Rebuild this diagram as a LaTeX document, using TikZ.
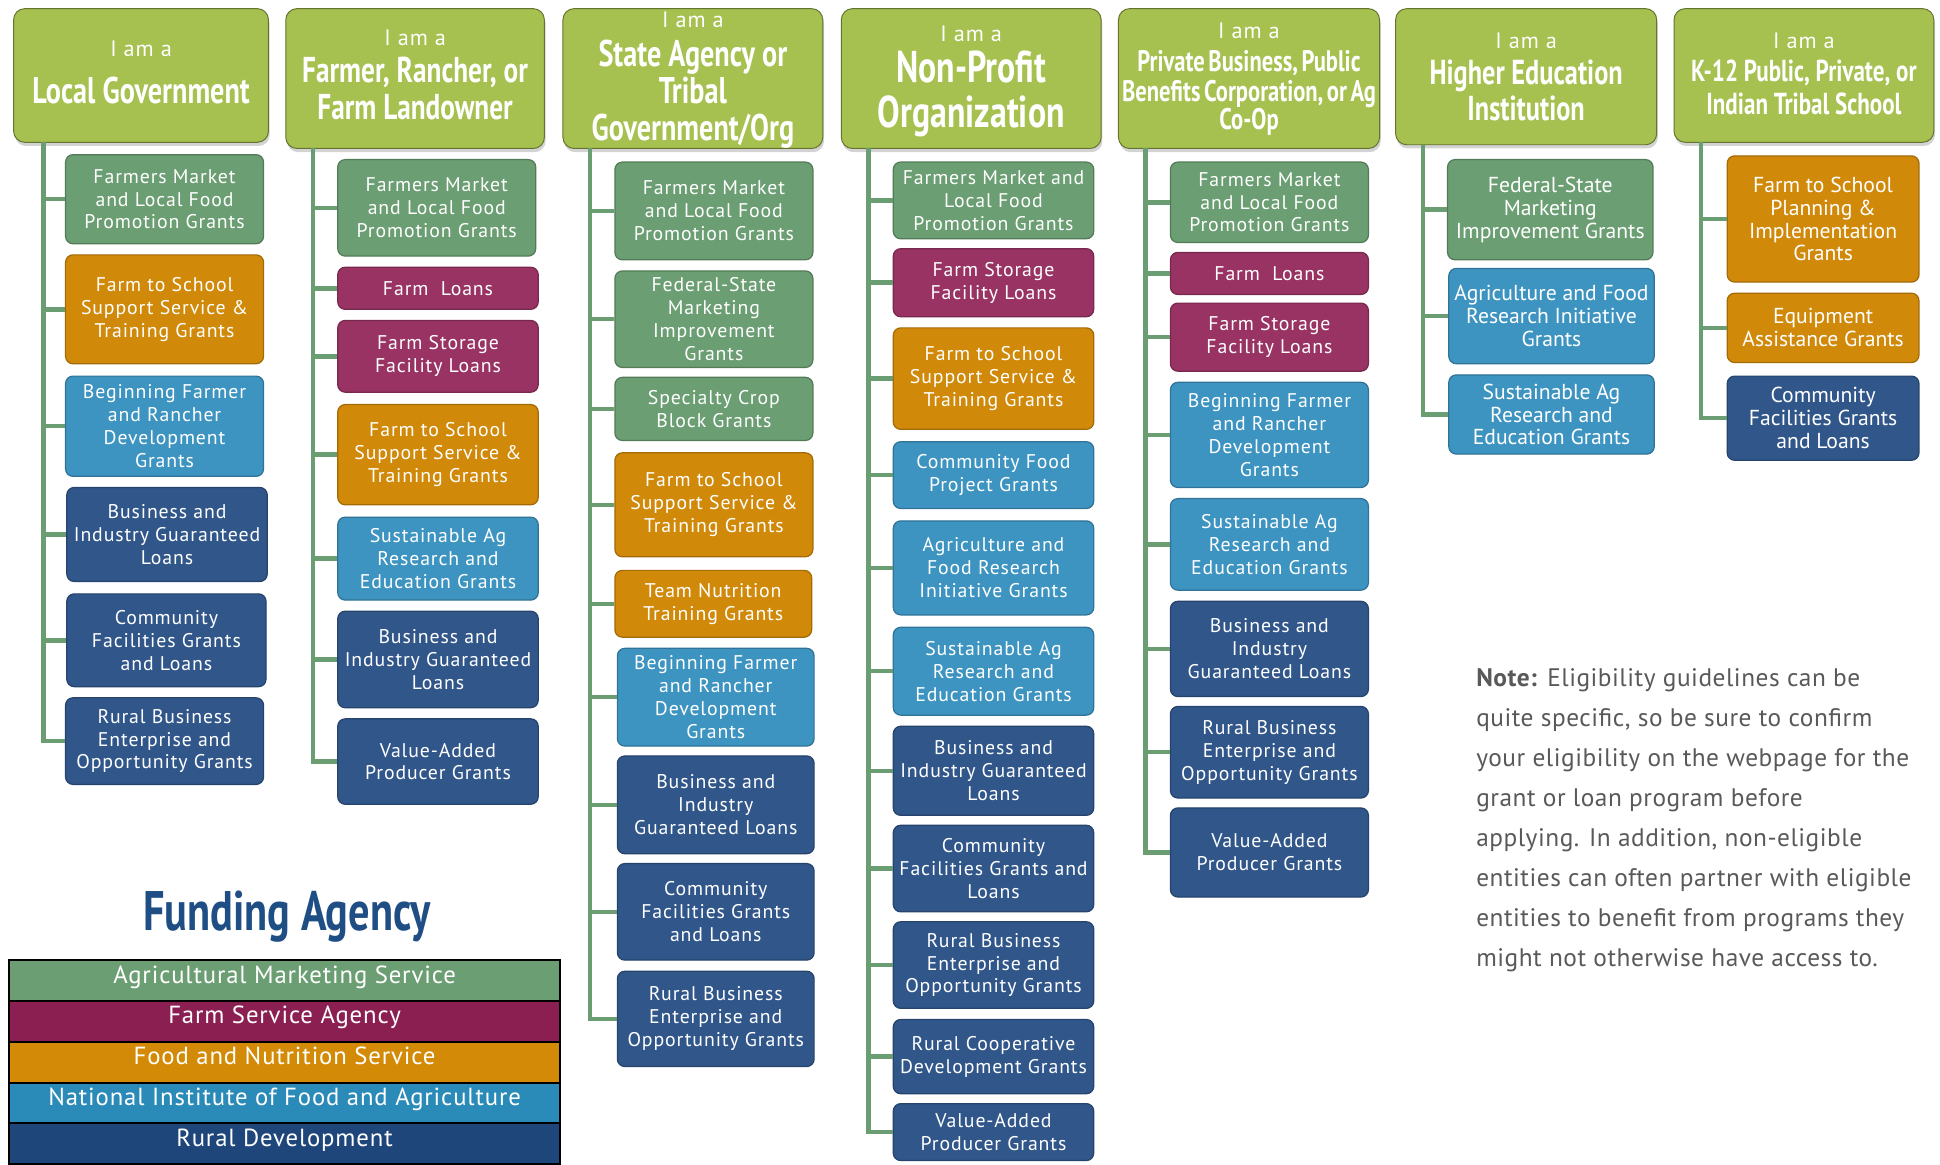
\documentclass[tikz,border=0pt]{standalone}
\usepackage{fontspec}
\setmainfont{PT Sans}
\newfontfamily\bxfont[LetterSpace=4.5]{PT Sans}
\newfontfamily\bxnfont{PT Sans}
\newfontfamily\legfont[LetterSpace=3.5]{PT Sans}
\newfontfamily\notefont[LetterSpace=2]{PT Sans}
\newfontfamily\hdfont[FakeStretch=0.76]{PT Sans}
\usetikzlibrary{shadows}
\definecolor{hgreen}{HTML}{A6C150}
\definecolor{ams}{HTML}{6B9E72}
\definecolor{fsa}{HTML}{983363}
\definecolor{fns}{HTML}{D1890A}
\definecolor{nifa}{HTML}{3D94C1}
\definecolor{rd}{HTML}{31568A}
\definecolor{lams}{HTML}{6B9F73}
\definecolor{lfsa}{HTML}{8C1F52}
\definecolor{lfns}{HTML}{D38A06}
\definecolor{lnifa}{HTML}{2A8AB8}
\definecolor{lrd}{HTML}{1F467A}
\definecolor{conn}{HTML}{6A9E72}
\definecolor{notegray}{HTML}{595959}
\definecolor{fundnavy}{HTML}{1F4E85}
\tikzset{
  hdrbox/.style={rounded corners=9pt, fill=hgreen, draw=hgreen!60!black, line width=0.8pt,
    inner sep=0pt, drop shadow={shadow xshift=1pt, shadow yshift=-3pt, opacity=0.35}},
  htxt/.style={anchor=base, inner sep=0pt, text=white},
  gbox/.style={rounded corners=6pt, text=white, align=center, inner sep=0pt, line width=1pt,
    font=\bxfont\fontsize{16}{18.5}\selectfont},
  nbox/.style={gbox, font=\bxnfont\fontsize{17.5}{18.5}\selectfont},
  connline/.style={draw=conn, line width=3.6pt},
  legrow/.style={draw=black, line width=1.6pt, text=white, inner sep=0pt,
    text height=14pt, text depth=10pt,
    minimum width=446pt, minimum height=33pt, font=\legfont\fontsize{20}{22}\selectfont},
}
\newcommand\hf[1]{\hdfont\bfseries\fontsize{#1}{#1}\selectfont}
% header box: name, x1, x2, y1, y2
\newcommand\hdr[5]{\node[hdrbox, minimum width={(#3)-(#2)}, minimum height={(#5)-(#4)}] (#1) at ({((#2)+(#3))/2},{((#4)+(#5))/2}) {};}
% "I am a": name, x, ycenter
\newcommand\iam[3]{\node[htxt, font=\bxfont\fontsize{18}{20}\selectfont] (#1) at (#2,{(#3)+6.5}) {I am a};}
% header line: name, x, ycenter, size, text
\newcommand\hl[5]{\node[htxt, font=\hf{#4}] (#1) at (#2,{(#3)+0.36*(#4)}) {#5};}
\newcommand\tight{\spaceskip=0.12em plus 0.05em\relax}
\newcommand\gb[8][gbox]{\node[#1, fill=#3, draw=#3!78!black, minimum width={(#5)-(#4)}, minimum height={(#7)-(#6)}] (#2) at ({((#4)+(#5))/2},{((#6)+(#7))/2}) {#8};}
\begin{document}
\begin{tikzpicture}[x=1pt,y=-1pt]
\useasboundingbox (0,0) rectangle (1568,941);

% ---------- headers ----------
\hdr{h1}{11}{217}{7}{115}
\iam{h1i}{114}{39}
\hl{h1a}{114}{73}{30}{Local Government}

\hdr{h2}{231}{440}{7}{120}
\iam{h2i}{335.5}{30}
\hl{h2a}{335.5}{56}{29}{Farmer, Rancher, or}
\hl{h2b}{335.5}{86}{29}{Farm Landowner}

\hdr{h3}{455}{665}{7}{120}
\iam{h3i}{560}{16}
\hl{h3a}{560}{43}{30}{State Agency or}
\hl{h3b}{560}{73}{30}{Tribal}
\hl{h3c}{560}{103}{30}{Government/Org}

\hdr{h4}{680}{890}{7}{120}
\iam{h4i}{785}{27}
\hl{h4a}{785}{54}{36}{Non-Profit}
\hl{h4b}{785}{90}{36}{Organization}

\hdr{h5}{904}{1115}{7}{120}
\iam{h5i}{1009.5}{25}
\hl{h5a}{1009.5}{49}{24}{\tight Private Business, Public}
\hl{h5b}{1009.5}{73}{24}{\tight Benefits Corporation, or Ag}
\hl{h5c}{1009.5}{96}{24}{Co-Op}

\hdr{h6}{1128}{1339}{7}{117}
\iam{h6i}{1233.5}{33}
\hl{h6a}{1233.5}{58}{28}{Higher Education}
\hl{h6b}{1233.5}{87}{28}{Institution}

\hdr{h7}{1353}{1563}{7}{115}
\iam{h7i}{1458}{33}
\hl{h7a}{1458}{57}{24.5}{K-12 Public, Private, or}
\hl{h7b}{1458}{84}{24.5}{Indian Tribal School}

% trunk starts
\coordinate (t1) at (35,115);
\coordinate (t2) at (253,120);
\coordinate (t3) at (477,120);
\coordinate (t4) at (702,120);
\coordinate (t5) at (926,120);
\coordinate (t6) at (1150,117);
\coordinate (t7) at (1375,115);

% ---------- column 1 ----------
\gb{c1a}{ams}{53}{213}{125}{197}{Farmers Market\\and Local Food\\Promotion Grants}
\gb{c1b}{fns}{53}{213}{206}{294}{Farm to School\\Support Service \&\\Training Grants}
\gb{c1c}{nifa}{53}{213}{304}{385}{Beginning Farmer\\and Rancher\\Development\\Grants}
\gb{c1d}{rd}{54}{216}{394}{470}{Business and\\Industry Guaranteed\\Loans}
\gb{c1e}{rd}{54}{215}{480}{555}{Community\\Facilities Grants\\and Loans}
\gb{c1f}{rd}{53}{213}{564}{634}{Rural Business\\Enterprise and\\Opportunity Grants}

% ---------- column 2 ----------
\gb{c2a}{ams}{273}{433}{129}{207}{Farmers Market\\and Local Food\\Promotion Grants}
\gb{c2b}{fsa}{273}{435}{216}{250}{Farm~~Loans}
\gb{c2c}{fsa}{273}{435}{259}{317}{Farm Storage\\Facility Loans}
\gb{c2d}{fns}{273}{435}{327}{408}{Farm to School\\Support Service \&\\Training Grants}
\gb{c2e}{nifa}{273}{435}{418}{485}{Sustainable Ag\\Research and\\Education Grants}
\gb{c2f}{rd}{273}{435}{494}{572}{Business and\\Industry Guaranteed\\Loans}
\gb{c2g}{rd}{273}{435}{581}{650}{Value-Added\\Producer Grants}

% ---------- column 3 ----------
\gb{c3a}{ams}{497}{657}{131}{210}{Farmers Market\\and Local Food\\Promotion Grants}
\gb{c3b}{ams}{497}{657}{219}{297}{Federal-State\\Marketing\\Improvement\\Grants}
\gb{c3c}{ams}{497}{657}{305}{356}{Specialty Crop\\Block Grants}
\gb{c3d}{fns}{497}{657}{366}{450}{Farm to School\\Support Service \&\\Training Grants}
\gb{c3e}{fns}{497}{656}{461}{515}{Team Nutrition\\Training Grants}
\gb{c3f}{nifa}{499}{658}{524}{603}{Beginning Farmer\\and Rancher\\Development\\Grants}
\gb{c3g}{rd}{499}{658}{611}{690}{Business and\\Industry\\Guaranteed Loans}
\gb{c3h}{rd}{499}{658}{698}{776}{Community\\Facilities Grants\\and Loans}
\gb{c3i}{rd}{499}{658}{785}{862}{Rural Business\\Enterprise and\\Opportunity Grants}

% ---------- column 4 ----------
\gb{c4a}{ams}{722}{884}{131}{193}{Farmers Market and\\Local Food\\Promotion Grants}
\gb{c4b}{fsa}{722}{884}{201}{256}{Farm Storage\\Facility Loans}
\gb{c4c}{fns}{722}{884}{265}{347}{Farm to School\\Support Service \&\\Training Grants}
\gb{c4d}{nifa}{722}{884}{357}{411}{Community Food\\Project Grants}
\gb{c4e}{nifa}{722}{884}{421}{497}{Agriculture and\\Food Research\\Initiative Grants}
\gb{c4f}{nifa}{722}{884}{507}{578}{Sustainable Ag\\Research and\\Education Grants}
\gb{c4g}{rd}{722}{884}{587}{659}{Business and\\Industry Guaranteed\\Loans}
\gb{c4h}{rd}{722}{884}{667}{737}{Community\\Facilities Grants and\\Loans}
\gb{c4i}{rd}{722}{884}{745}{815}{Rural Business\\Enterprise and\\Opportunity Grants}
\gb{c4j}{rd}{722}{884}{824}{884}{Rural Cooperative\\Development Grants}
\gb{c4k}{rd}{722}{884}{892}{938}{Value-Added\\Producer Grants}

% ---------- column 5 ----------
\gb{c5a}{ams}{946}{1106}{131}{196}{Farmers Market\\and Local Food\\Promotion Grants}
\gb{c5b}{fsa}{946}{1106}{204}{238}{Farm~~Loans}
\gb{c5c}{fsa}{946}{1106}{245}{300}{Farm Storage\\Facility Loans}
\gb{c5d}{nifa}{946}{1106}{309}{394}{Beginning Farmer\\and Rancher\\Development\\Grants}
\gb{c5e}{nifa}{946}{1106}{403}{477}{Sustainable Ag\\Research and\\Education Grants}
\gb{c5f}{rd}{946}{1106}{486}{563}{Business and\\Industry\\Guaranteed Loans}
\gb{c5g}{rd}{946}{1106}{571}{645}{Rural Business\\Enterprise and\\Opportunity Grants}
\gb{c5h}{rd}{946}{1106}{653}{725}{Value-Added\\Producer Grants}

% ---------- column 6 ----------
\gb[nbox]{c6a}{ams}{1170}{1336}{129}{210}{Federal-State\\Marketing\\Improvement Grants}
\gb[nbox]{c6b}{nifa}{1171}{1337}{217}{294}{Agriculture and Food\\Research Initiative\\Grants}
\gb[nbox]{c6c}{nifa}{1171}{1337}{303}{367}{Sustainable Ag\\Research and\\Education Grants}

% ---------- column 7 ----------
\gb[nbox]{c7a}{fns}{1396}{1551}{126}{228}{Farm to School\\Planning \&\\Implementation\\Grants}
\gb[nbox]{c7b}{fns}{1396}{1551}{237}{293}{Equipment\\Assistance Grants}
\gb[nbox]{c7c}{rd}{1396}{1551}{304}{372}{Community\\Facilities Grants\\and Loans}

% ---------- connectors ----------
\foreach \b in {c1a,c1b,c1c,c1d,c1e,c1f} \draw[connline] (t1) |- (\b.west);
\foreach \b in {c2a,c2b,c2c,c2d,c2e,c2f,c2g} \draw[connline] (t2) |- (\b.west);
\foreach \b in {c3a,c3b,c3c,c3d,c3e,c3f,c3g,c3h,c3i} \draw[connline] (t3) |- (\b.west);
\foreach \b in {c4a,c4b,c4c,c4d,c4e,c4f,c4g,c4h,c4i,c4j,c4k} \draw[connline] (t4) |- (\b.west);
\foreach \b in {c5a,c5b,c5c,c5d,c5e,c5f,c5g,c5h} \draw[connline] (t5) |- (\b.west);
\foreach \b in {c6a,c6b,c6c} \draw[connline] (t6) |- (\b.west);
\foreach \b in {c7a,c7b,c7c} \draw[connline] (t7) |- (\b.west);

% ---------- legend ----------
\node[anchor=base, inner sep=0pt, text=fundnavy, font=\hf{45}] (fundtitle) at (232,752) {Funding Agency};
\node[legrow, fill=lams] (l1) at (230,792.5) {Agricultural Marketing Service};
\node[legrow, fill=lfsa] (l2) at (230,825.5) {Farm Service Agency};
\node[legrow, fill=lfns] (l3) at (230,858.5) {Food and Nutrition Service};
\node[legrow, fill=lnifa] (l4) at (230,891.5) {National Institute of Food and Agriculture};
\node[legrow, fill=lrd] (l5) at (230,924.5) {Rural Development};

% ---------- note ----------
\node[anchor=north west, align=left, inner sep=0pt, text=notegray,
  font=\notefont\fontsize{20.5}{32.3}\selectfont] (note) at (1193,540)
  {\textbf{Note:} Eligibility guidelines can be\\
   quite specific, so be sure to confirm\\
   your eligibility on the webpage for the\\
   grant or loan program before\\
   applying. In addition, non-eligible\\
   entities can often partner with eligible\\
   entities to benefit from programs they\\
   might not otherwise have access to.};
\end{tikzpicture}
\end{document}
